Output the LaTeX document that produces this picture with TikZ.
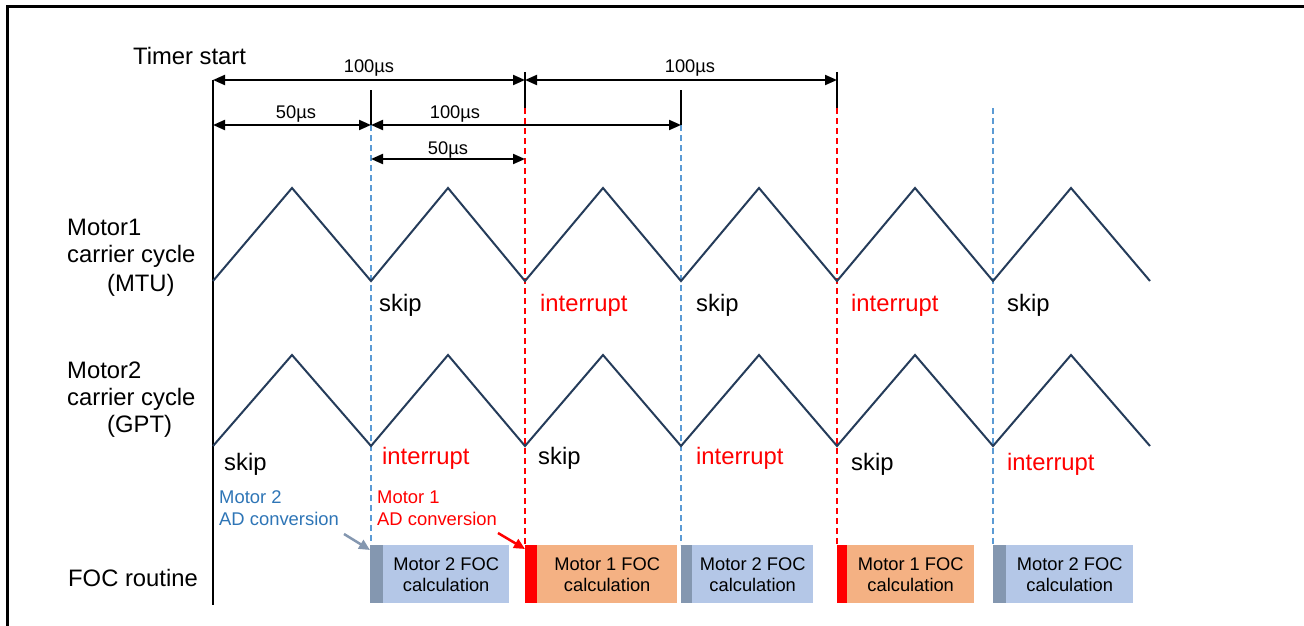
\documentclass[tikz,border=0pt]{standalone}
\usepackage{fontspec}
\setmainfont{Liberation Sans}
\usetikzlibrary{arrows.meta,calc}
\definecolor{wavec}{RGB}{37,60,90}
\definecolor{dblue}{RGB}{91,155,213}
\definecolor{tblue}{RGB}{46,117,182}
\definecolor{stripc}{RGB}{132,151,176}
\definecolor{boxblue}{RGB}{180,199,231}
\definecolor{boxorange}{RGB}{244,177,131}
\definecolor{ared}{RGB}{255,0,0}
\begin{document}
\begin{tikzpicture}[x=1pt,y=-1pt,
  big/.style={font=\fontsize{23.8}{27}\selectfont, inner sep=0, anchor=base west},
  dimlbl/.style={font=\fontsize{18.3}{21}\selectfont, inner sep=0},
  small/.style={font=\fontsize{18.4}{21}\selectfont, inner sep=0, anchor=base west},
  dimarrow/.style={line width=2pt, {Triangle[length=12pt,width=10pt]}-{Triangle[length=12pt,width=10pt]}},
  wave/.style={draw=wavec, line width=2pt, line join=miter},
  tickline/.style={line width=1.3pt},
  bdash/.style={dblue, line width=1.2pt, dash pattern=on 6pt off 4pt},
  rdash/.style={ared, line width=1.2pt, dash pattern=on 6pt off 4pt},
  strip/.style={inner sep=0, minimum height=58pt, anchor=north west},
  focbox/.style={inner sep=0, minimum height=58pt, anchor=north west, align=center,
     font=\fontsize{18.3}{21}\selectfont},
  adarrow/.style={line width=2.5pt, -{Triangle[length=11pt,width=10pt]}}
]
\useasboundingbox (0,0) rectangle (1304,626);
% frame
\draw[line width=3pt] (7,626) -- (7,7) -- (1304,7);

% coordinates for the time marks
\coordinate (t0a) at (213,80);   \coordinate (t0b) at (213,605);
\coordinate (t0m) at (213,125);
\coordinate (t1a) at (371,90);   \coordinate (t1b) at (371,125); \coordinate (t1c) at (371,545);
\coordinate (t1m) at (371,159);
\coordinate (t2a) at (525,72);   \coordinate (t2b) at (525,108); \coordinate (t2c) at (525,545);
\coordinate (t2r) at (525,80);   \coordinate (t2m) at (525,159);
\coordinate (t3a) at (681,90);   \coordinate (t3b) at (681,125); \coordinate (t3c) at (681,545);
\coordinate (t4a) at (837,72);   \coordinate (t4b) at (837,108); \coordinate (t4c) at (837,545);
\coordinate (t4r) at (837,80);
\coordinate (t5b) at (993,108);  \coordinate (t5c) at (993,545);

% dashed guide lines
\draw[bdash] (t1b) -- (t1c);
\draw[rdash] (t2b) -- (t2c);
\draw[bdash] (t3b) -- (t3c);
\draw[rdash] (t4b) -- (t4c);
\draw[bdash] (t5b) -- (t5c);

% black tick lines
\draw[tickline] (t0a) -- (t0b);
\draw[tickline] (t1a) -- (t1b);
\draw[tickline] (t2a) -- (t2b);
\draw[tickline] (t3a) -- (t3b);
\draw[tickline] (t4a) -- (t4b);

% dimension arrows
\draw[dimarrow] (t0a) -- (t2r);
\draw[dimarrow] (t2r) -- (t4r);
\draw[dimarrow] (t0m) -- (t1b);
\draw[dimarrow] (t1b) -- (t3b);
\draw[dimarrow] (t1m) -- (t2m);
\node[dimlbl] (d1) at (369,68) {100µs};
\node[dimlbl] (d2) at (690,68) {100µs};
\node[dimlbl] (d3) at (296,114) {50µs};
\node[dimlbl] (d4) at (455,114) {100µs};
\node[dimlbl] (d5) at (448,150) {50µs};

% carrier waves
\draw[wave] (213,281) -- (292,188) -- (371,281) -- (448,188) -- (525,281) -- (603,188)
  -- (681,281) -- (759,188) -- (837,281) -- (915,188) -- (993,281) -- (1071,188) -- (1150,281);
\draw[wave] (213,446) -- (292,355) -- (371,446) -- (448,355) -- (525,446) -- (603,355)
  -- (681,446) -- (759,355) -- (837,446) -- (915,355) -- (993,446) -- (1071,355) -- (1150,446);

% left labels
\node[big] (ts) at (133,65) {Timer start};
\node[big] (m1a) at (67,235) {Motor1};
\node[big] (m1b) at (67,262) {carrier cycle};
\node[big] (m1c) at (107,291) {(MTU)};
\node[big] (m2a) at (67,378) {Motor2};
\node[big] (m2b) at (67,405) {carrier cycle};
\node[big] (m2c) at (107,432) {(GPT)};
\node[big] (foc) at (68,586) {FOC routine};

% motor1 events
\node[big] (e11) at (379,311) {skip};
\node[big, text=ared] (e12) at (540,311) {interrupt};
\node[big] (e13) at (696,311) {skip};
\node[big, text=ared] (e14) at (851,311) {interrupt};
\node[big] (e15) at (1007,311) {skip};
% motor2 events
\node[big] (e20) at (224,470) {skip};
\node[big, text=ared] (e21) at (382,464) {interrupt};
\node[big] (e22) at (538,464) {skip};
\node[big, text=ared] (e23) at (696,464) {interrupt};
\node[big] (e24) at (851,470) {skip};
\node[big, text=ared] (e25) at (1007,470) {interrupt};

% AD conversion labels
\node[small, text=tblue] (ad2a) at (219,503) {Motor 2};
\node[small, text=tblue] (ad2b) at (219,525) {AD conversion};
\node[small, text=ared] (ad1a) at (377,503) {Motor 1};
\node[small, text=ared] (ad1b) at (377,525) {AD conversion};

% FOC boxes
\node[strip, fill=stripc, minimum width=13pt] (s1) at (370,545) {};
\node[focbox, fill=boxblue, minimum width=126pt] (b1) at (383,545) {Motor 2 FOC\\calculation};
\node[strip, fill=ared, minimum width=12pt] (s2) at (525,545) {};
\node[focbox, fill=boxorange, minimum width=140pt] (b2) at (537,545) {Motor 1 FOC\\calculation};
\node[strip, fill=stripc, minimum width=11pt] (s3) at (681,545) {};
\node[focbox, fill=boxblue, minimum width=121pt] (b3) at (692,545) {Motor 2 FOC\\calculation};
\node[strip, fill=ared, minimum width=10pt] (s4) at (837,545) {};
\node[focbox, fill=boxorange, minimum width=127pt] (b4) at (847,545) {Motor 1 FOC\\calculation};
\node[strip, fill=stripc, minimum width=13pt] (s5) at (993,545) {};
\node[focbox, fill=boxblue, minimum width=127pt] (b5) at (1006,545) {Motor 2 FOC\\calculation};

% AD arrows
\coordinate (g0) at (344,534);
\coordinate (r0) at (498,533);
\draw[adarrow, stripc] (g0) -- ($(s1.north west)+(0,5)$);
\draw[adarrow, ared] (r0) -- ($(s2.north west)+(0,4)$);
\end{tikzpicture}
\end{document}
